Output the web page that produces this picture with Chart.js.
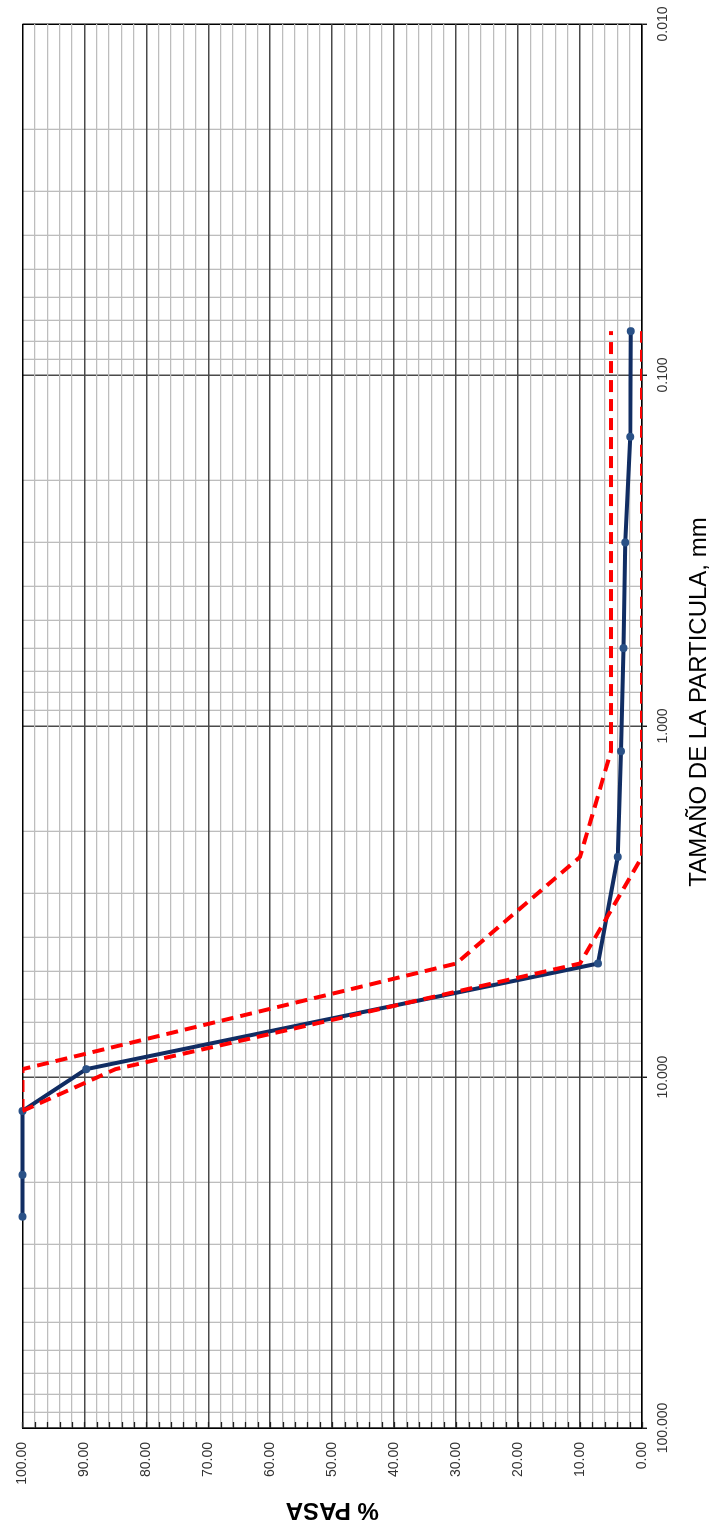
<!DOCTYPE html>
<html lang="es">
<head>
<meta charset="utf-8">
<title>Curva granulométrica</title>
<script src="https://cdn.jsdelivr.net/npm/chart.js@4.4.1/dist/chart.umd.min.js"></script>
<style>
  html, body { margin: 0; padding: 0; background: #ffffff; }
  body { width: 713px; height: 1533px; overflow: hidden; position: relative; }
  /* The sheet is laid out landscape and turned a quarter turn to stand upright */
  #sheet {
    position: absolute; left: 0; top: 0;
    width: 1533px; height: 713px;
    transform-origin: 0 0;
    transform: translateY(1533px) rotate(-90deg);
    background: #ffffff;
  }
  canvas { display: block; }
</style>
</head>
<body>
<div id="sheet"><canvas id="curva" width="1533" height="713"></canvas></div>
<script>
// Sieve openings (mm) and percent passing of the sample
const sizes   = [25.0, 19.0, 12.5, 9.5, 4.75, 2.36, 1.18, 0.60, 0.30, 0.15, 0.075];
const passing = [100, 100, 100, 89.7, 7.1, 3.9, 3.4, 3.0, 2.7, 1.9, 1.8];

// Specification band
const specSizes = [12.5, 9.5, 4.75, 2.36, 1.18, 0.60, 0.30, 0.15, 0.075];
const specUpper = [100, 100, 30, 10, 5, 5, 5, 5, 5];
const specLower = [100, 85, 10, 0, 0, 0, 0, 0, 0];

// Axis ticks
const sizeDecades = [0.01, 0.1, 1, 10, 100];
const minorSteps  = [2, 3, 4, 5, 6, 7, 8, 9];
const passMin = 0, passMax = 100, passStep = 2, passLabelStep = 10;

const xTitle = 'TAMAÑO DE LA PARTICULA, mm';
const yTitle = '% PASA';

const FONT = '"Liberation Sans", Arial, sans-serif';
const DARK = '#4a4a4a';
const LIGHT = '#bdbdbd';

const pairs = (xs, ys) => xs.map((x, i) => ({ x: x, y: ys[i] }));

const isDecade = v => sizeDecades.some(d => Math.abs(v - d) / d < 1e-6);
const sizeGrid = [];
sizeDecades.forEach((d, i) => {
  sizeGrid.push(d);
  if (i < sizeDecades.length - 1) minorSteps.forEach(m => sizeGrid.push(+(d * m).toPrecision(6)));
});

// Short inner tick marks along the % axis, and the size-axis caption
const extras = {
  id: 'extras',
  beforeDatasetsDraw(chart) {
    const { ctx, chartArea } = chart;
    const y = chart.scales.y;
    ctx.save();
    ctx.strokeStyle = '#222';
    ctx.lineWidth = 1.3;
    y.ticks.forEach(t => {
      const p = Math.round(y.getPixelForValue(t.value)) + 0.5;
      ctx.beginPath();
      ctx.moveTo(chartArea.left, p);
      ctx.lineTo(chartArea.left + 6, p);
      ctx.stroke();
    });
    ctx.restore();
  },
  afterDraw(chart) {
    const { ctx, chartArea } = chart;
    ctx.save();
    ctx.font = '24px ' + FONT;
    ctx.fillStyle = '#000';
    ctx.textAlign = 'center';
    ctx.textBaseline = 'middle';
    ctx.fillText(xTitle, (chartArea.left + chartArea.right) / 2 + 24, 699);
    ctx.restore();
  }
};

new Chart(document.getElementById('curva'), {
  type: 'line',
  data: {
    datasets: [
      {
        label: 'Límite superior',
        data: pairs(specSizes, specUpper),
        borderColor: '#ff0000',
        borderWidth: 4,
        borderDash: [12, 7],
        pointRadius: 0,
        fill: false,
        tension: 0,
        order: 1
      },
      {
        label: 'Límite inferior',
        data: pairs(specSizes, specLower),
        borderColor: '#ff0000',
        borderWidth: 4,
        borderDash: [12, 7],
        pointRadius: 0,
        fill: false,
        tension: 0,
        order: 1
      },
      {
        label: 'Muestra',
        data: pairs(sizes, passing),
        borderColor: '#112d63',
        borderWidth: 4,
        borderJoinStyle: 'round',
        borderCapStyle: 'round',
        pointRadius: 4,
        pointBackgroundColor: '#2a5187',
        pointBorderColor: '#2a5187',
        pointBorderWidth: 0,
        fill: false,
        tension: 0,
        clip: false,
        order: 2
      }
    ]
  },
  options: {
    responsive: false,
    animation: false,
    devicePixelRatio: 1,
    layout: { padding: { top: 21, right: 24, bottom: 0, left: 0 } },
    plugins: {
      legend: { display: false },
      tooltip: { enabled: false },
      title: { display: false }
    },
    scales: {
      x: {
        type: 'logarithmic',
        position: 'bottom',
        reverse: true,
        min: sizeDecades[0],
        max: sizeDecades[sizeDecades.length - 1],
        afterBuildTicks(scale) { scale.ticks = sizeGrid.map(v => ({ value: v })); },
        afterFit(scale) { scale.height = 71; },
        ticks: {
          autoSkip: false,
          maxRotation: 0,
          minRotation: 0,
          padding: 8,
          color: '#333',
          font: { family: FONT, size: 14 },
          callback: v => isDecade(v) ? v.toFixed(3) : ''
        },
        grid: {
          color: c => c.tick && isDecade(c.tick.value) ? (c.tick.value === sizeDecades[0] ? '#000' : DARK) : LIGHT,
          lineWidth: c => c.tick && isDecade(c.tick.value) ? 1.5 : 1.3,
          tickLength: 5,
          tickColor: c => c.tick && isDecade(c.tick.value) ? '#000' : 'rgba(0,0,0,0)',
          tickWidth: 1.3
        },
        border: { display: true, color: '#000', width: 1.5 },
        title: { display: false }
      },
      y: {
        type: 'linear',
        position: 'left',
        min: passMin,
        max: passMax,
        afterFit(scale) { scale.width = 105; },
        ticks: {
          stepSize: passStep,
          autoSkip: false,
          padding: 14,
          color: '#333',
          font: { family: FONT, size: 14 },
          callback: v => v % passLabelStep === 0 ? v.toFixed(2) : ''
        },
        grid: {
          drawTicks: false,
          color: c => c.tick && c.tick.value % passLabelStep === 0 ? (c.tick.value === passMax ? '#000' : DARK) : LIGHT,
          lineWidth: c => c.tick && c.tick.value % passLabelStep === 0 ? 1.5 : 1.3
        },
        border: { display: true, color: '#000', width: 1.5 },
        title: {
          display: true,
          text: yTitle,
          color: '#000',
          font: { family: FONT, size: 24, weight: 'bold' },
          padding: { top: 9, bottom: 0 }
        }
      }
    }
  },
  plugins: [extras]
});
</script>
</body>
</html>
